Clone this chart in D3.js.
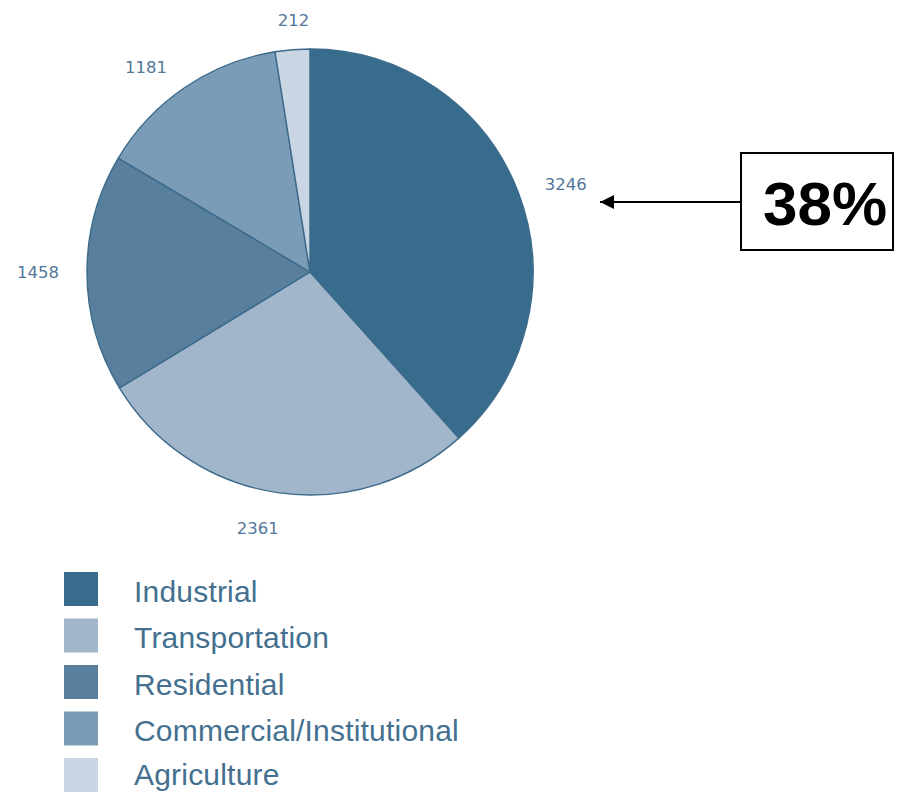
<!DOCTYPE html>
<html><head><meta charset="utf-8">
<script src="https://cdn.jsdelivr.net/npm/d3@7"></script>
<style>html,body{margin:0;padding:0;background:#fff;}svg{display:block;}</style>
</head><body>
<svg id="c" width="899" height="792"></svg>
<script>
const categories = ["Industrial", "Transportation", "Residential", "Commercial/Institutional", "Agriculture"];
const values = [3246, 2361, 1458, 1181, 212];
const colors = ["#386c8c", "#a1b6cb", "#587f9e", "#7b9cb6", "#c9d5e2"];
const calloutText = "38%";

// layout: small nudges of the value labels away from the arc centroid (pixels)
const labelNudge = [[11, 6], [-14, -3], [-10, -1], [-17, 12], [4, 10]];

const svg = d3.select("#c");
const cx = 310, cy = 272, R = 223;

const pie = d3.pie().sort(null).value(d => d)(values);
const arc = d3.arc().innerRadius(0).outerRadius(R);
const labelArc = d3.arc().innerRadius(262).outerRadius(262);
const color = d3.scaleOrdinal().domain(categories).range(colors);

const g = svg.append("g").attr("transform", `translate(${cx},${cy})`);
g.selectAll("path").data(pie).join("path")
  .attr("d", arc)
  .attr("fill", (d, i) => color(categories[i]))
  .attr("stroke", "#3b6a8b")
  .attr("stroke-width", 1.4)
  .attr("stroke-linejoin", "round");

g.selectAll("text.v").data(pie).join("text")
  .attr("class", "v")
  .attr("transform", (d, i) => {
    const [x, y] = labelArc.centroid(d);
    return `translate(${x + labelNudge[i][0]},${y + labelNudge[i][1]})`;
  })
  .attr("text-anchor", "middle")
  .attr("dominant-baseline", "central")
  .attr("font-family", "DejaVu Sans, sans-serif")
  .attr("font-size", 16.5)
  .attr("fill", "#52779a")
  .text(d => d.data);

// Legend
const lg = svg.append("g");
const rowH = 46.5;
categories.forEach((c, i) => {
  const y0 = 572 + i * rowH;
  lg.append("rect").attr("x", 64).attr("y", y0).attr("width", 34).attr("height", 34)
    .attr("fill", color(c));
  lg.append("text").attr("x", 134).attr("y", Math.min(y0 + 29.5, 785))
    .attr("font-family", "Liberation Sans, Arial, sans-serif")
    .attr("font-size", 30)
    .attr("letter-spacing", 0.2)
    .attr("fill", "#44708f")
    .text(c);
});

// Callout
const defs = svg.append("defs");
defs.append("marker").attr("id", "ah").attr("viewBox", "0 0 10 10")
  .attr("refX", 10).attr("refY", 5).attr("markerWidth", 7).attr("markerHeight", 7)
  .attr("markerUnits", "strokeWidth").attr("orient", "auto")
  .append("path").attr("d", "M0,0 L10,5 L0,10 Z").attr("fill", "#000");
svg.append("line").attr("x1", 741).attr("y1", 202).attr("x2", 600).attr("y2", 202)
  .attr("stroke", "#000").attr("stroke-width", 2).attr("marker-end", "url(#ah)");
svg.append("rect").attr("x", 741).attr("y", 153).attr("width", 152).attr("height", 97)
  .attr("fill", "#fff").attr("stroke", "#000").attr("stroke-width", 2);
svg.append("text").attr("x", 825).attr("y", 225).attr("text-anchor", "middle")
  .attr("font-family", "Liberation Sans, Arial, sans-serif").attr("font-weight", "bold")
  .attr("font-size", 62).attr("fill", "#000").text(calloutText);
</script>
</body></html>
